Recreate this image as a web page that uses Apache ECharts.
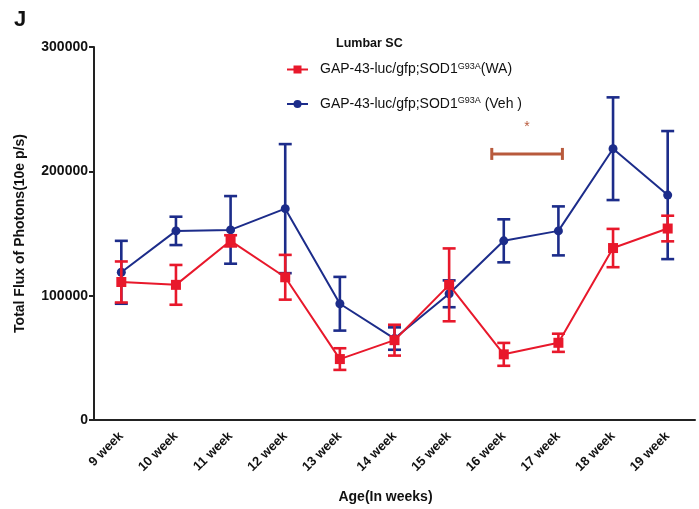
<!DOCTYPE html>
<html>
<head>
<meta charset="utf-8">
<script src="https://cdn.jsdelivr.net/npm/echarts@6/dist/echarts.min.js"></script>
<style>
  html, body { margin: 0; padding: 0; background: #fff; }
  #chart { width: 699px; height: 509px; }
</style>
</head>
<body>
<div id="chart"></div>
<script>
// data
var weeks = ['9 week', '10 week', '11 week', '12 week', '13 week', '14 week',
             '15 week', '16 week', '17 week', '18 week', '19 week'];
var waMean = [111000, 108700, 144100, 114800, 49000, 64200, 108700, 52800, 62100, 138300, 154000];
var waErr  = [16500, 16000, 4500, 18000, 8700, 12400, 29300, 9200, 7300, 15400, 10300];
var vehMean = [118800, 152100, 152900, 170000, 93500, 65500, 101500, 144100, 152100, 218200, 180900];
var vehErr  = [25300, 11400, 27200, 51900, 21600, 9000, 10800, 17300, 19700, 41300, 51500];
var yTicks = [0, 100000, 200000, 300000];
// significance bracket: from week, to week, height
var sigFrom = 7, sigTo = 8, sigY = 214000;

var RED = '#e8182b';
var BLUE = '#1c2c8a';
var BROWN = '#b85a3c';

var chart = echarts.init(document.getElementById('chart'));

function errData(mean, err) {
    return mean.map(function (m, i) { return [i, m - err[i], m + err[i]]; });
}

function errRender(color) {
    return function (params, api) {
        var x = api.value(0);
        var lo = api.coord([x, api.value(1)]);
        var hi = api.coord([x, api.value(2)]);
        var w = 6.5;
        var st = { stroke: color, lineWidth: 2.6 };
        return {
            type: 'group',
            children: [
                { type: 'line', shape: { x1: hi[0], y1: hi[1], x2: lo[0], y2: lo[1] }, style: st },
                { type: 'line', shape: { x1: hi[0] - w, y1: hi[1], x2: hi[0] + w, y2: hi[1] }, style: st },
                { type: 'line', shape: { x1: lo[0] - w, y1: lo[1], x2: lo[0] + w, y2: lo[1] }, style: st }
            ]
        };
    };
}

function rich(name, tail) {
    return '{a|' + name + '}{s|G93A}{a|' + tail + '}';
}

var option = {
    animation: false,
    backgroundColor: '#fff',
    textStyle: { fontFamily: 'Liberation Sans, Arial, sans-serif' },
    title: [
        { text: 'J', left: 9, top: 4, textStyle: { fontSize: 22, fontWeight: 'bold', color: '#111' } },
        { text: 'Lumbar SC', left: 331, top: 32, textStyle: { fontSize: 12.5, fontWeight: 'bold', color: '#111' } }
    ],
    legend: {
        orient: 'vertical',
        left: 286,
        top: 62,
        padding: 0,
        itemGap: 20,
        itemWidth: 21,
        itemHeight: 10,
        data: ['WA', 'Veh'],
        formatter: function (n) {
            return n === 'WA' ? rich('GAP-43-luc/gfp;SOD1', '(WA)') : rich('GAP-43-luc/gfp;SOD1', ' (Veh )');
        },
        textStyle: {
            padding: [0, 0, 0, 7],
            rich: {
                a: { fontSize: 14, color: '#111', fontFamily: 'Liberation Sans, Arial, sans-serif' },
                s: { fontSize: 9, color: '#111', verticalAlign: 'top', padding: [0, 0, 6, 0], fontFamily: 'Liberation Sans, Arial, sans-serif' }
            }
        }
    },
    grid: { left: 94, right: 4, top: 47, bottom: 86, containLabel: false },
    xAxis: {
        type: 'category',
        data: weeks,
        boundaryGap: true,
        name: 'Age(In weeks)',
        nameLocation: 'middle',
        nameGap: 70,
        nameTextStyle: { fontSize: 14, fontWeight: 'bold', color: '#111', padding: [0, 18, 0, 0] },
        axisLine: { lineStyle: { color: '#222', width: 2 } },
        axisTick: { alignWithLabel: true, length: 5, lineStyle: { color: '#222', width: 2 } },
        axisLabel: { rotate: 45, fontSize: 13, fontWeight: 'bold', color: '#111', margin: 14, interval: 0 }
    },
    yAxis: {
        type: 'value',
        min: 0,
        max: 300000,
        interval: 100000,
        name: 'Total Flux of Photons(10e p/s)',
        nameLocation: 'middle',
        nameGap: 67,
        nameTextStyle: { fontSize: 14, fontWeight: 'bold', color: '#111' },
        splitLine: { show: false },
        axisLine: { show: true, lineStyle: { color: '#222', width: 2 } },
        axisTick: { show: true, length: 5, lineStyle: { color: '#222', width: 2 } },
        axisLabel: {
            fontSize: 14, fontWeight: 'bold', color: '#111', margin: 6,
            formatter: function (v) { return yTicks.indexOf(v) >= 0 ? String(v) : ''; }
        }
    },
    series: [
        {
            name: 'Veh-err',
            type: 'custom',
            renderItem: errRender(BLUE),
            data: errData(vehMean, vehErr),
            z: 2
        },
        {
            name: 'Veh',
            type: 'line',
            data: vehMean,
            symbol: 'circle',
            symbolSize: 9,
            color: BLUE,
            lineStyle: { width: 2, color: BLUE },
            itemStyle: { color: BLUE },
            z: 3
        },
        {
            name: 'WA-err',
            type: 'custom',
            renderItem: errRender(RED),
            data: errData(waMean, waErr),
            z: 4
        },
        {
            name: 'WA',
            type: 'line',
            data: waMean,
            symbol: 'rect',
            symbolSize: 10,
            color: RED,
            lineStyle: { width: 2, color: RED },
            itemStyle: { color: RED },
            z: 5
        },
        {
            name: 'sig',
            type: 'custom',
            data: [[sigFrom, sigTo, sigY]],
            z: 6,
            renderItem: function (params, api) {
                var a = api.coord([api.value(0), api.value(2)]);
                var b = api.coord([api.value(1), api.value(2)]);
                var x1 = a[0] - 12, x2 = b[0] + 4, y = a[1];
                var st = { stroke: BROWN, lineWidth: 3 };
                return {
                    type: 'group',
                    children: [
                        { type: 'line', shape: { x1: x1, y1: y, x2: x2, y2: y }, style: st },
                        { type: 'line', shape: { x1: x1, y1: y - 6, x2: x1, y2: y + 6 }, style: st },
                        { type: 'line', shape: { x1: x2, y1: y - 6, x2: x2, y2: y + 6 }, style: st },
                        { type: 'text', x: (x1 + x2) / 2, y: y - 27,
                          style: { text: '*', fill: BROWN, fontSize: 14, align: 'center', verticalAlign: 'middle' } }
                    ]
                };
            }
        }
    ]
};

chart.setOption(option);
</script>
</body>
</html>
